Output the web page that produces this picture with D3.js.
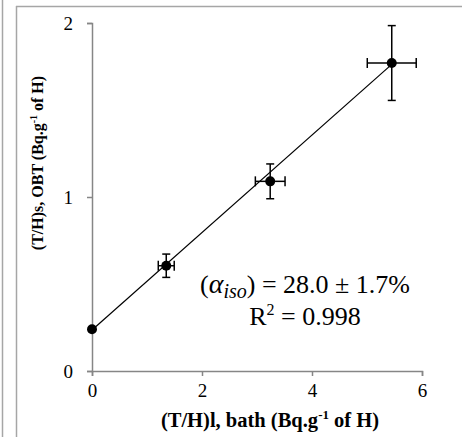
<!DOCTYPE html>
<html>
<head>
<meta charset="utf-8">
<script src="https://cdn.jsdelivr.net/npm/d3@7"></script>
<style>
  body { margin: 0; background: #fff; }
  svg text { font-family: "Liberation Serif", "Times New Roman", serif; }
</style>
</head>
<body>
<svg id="chart" width="462" height="437"></svg>
<script>
// values
const xVals = [0, 1.35, 3.24, 5.45]
const yVals = [0.24, 0.605, 1.09, 1.77]
const xErr = [0, 0.145, 0.27, 0.445]
const yErr = [0, 0.067, 0.1, 0.215]
const xTicks = [0, 2, 4, 6]
const yTicks = [0, 1, 2]
const fitSlope = 0.28
const fitIntercept = 0.236

const svg = d3.select('#chart')

// frame lines around the figure
const frame = '#a6a6a6'
svg.append('line').attr('x1', 2.5).attr('x2', 2.5).attr('y1', 0).attr('y2', 437)
  .attr('stroke', frame).attr('stroke-width', 1.5)
svg.append('line').attr('x1', 16.5).attr('x2', 16.5).attr('y1', 6).attr('y2', 437)
  .attr('stroke', frame).attr('stroke-width', 1.5)
svg.append('line').attr('x1', 16).attr('x2', 462).attr('y1', 6.5).attr('y2', 6.5)
  .attr('stroke', frame).attr('stroke-width', 1.5)

const x = d3.scaleLinear().domain([0, 6]).range([92, 422])
const y = d3.scaleLinear().domain([0, 2]).range([371, 23])

const axisColor = '#868686'

const xAxis = svg.append('g')
  .attr('transform', `translate(0, ${y(0)})`)
  .call(d3.axisBottom(x).tickValues(xTicks).tickSize(5).tickPadding(8).tickFormat(d3.format('d')))
const yAxis = svg.append('g')
  .attr('transform', `translate(${x(0)}, 0)`)
  .call(d3.axisLeft(y).tickValues(yTicks).tickSize(5).tickPadding(14).tickFormat(d3.format('d')))

;[xAxis, yAxis].forEach(ax => {
  ax.attr('font-family', null).attr('font-size', null)
  ax.select('.domain').attr('stroke', axisColor).attr('stroke-width', 1.5)
  ax.selectAll('.tick line').attr('stroke', axisColor).attr('stroke-width', 1.5)
  ax.selectAll('.tick text')
    .attr('fill', '#000')
    .style('font-size', '19px')
})
yAxis.selectAll('.tick text').attr('dy', '0.35em')

// fit line
const xMax = d3.max(xVals)
svg.append('line')
  .attr('x1', x(0)).attr('y1', y(fitIntercept))
  .attr('x2', x(xMax)).attr('y2', y(fitIntercept + fitSlope * xMax))
  .attr('stroke', '#000').attr('stroke-width', 1.2)

const pts = xVals.map((v, i) => ({ x: v, y: yVals[i], ex: xErr[i], ey: yErr[i] }))
const bars = svg.append('g').attr('stroke', '#000').attr('stroke-width', 1.5)
const withErr = pts.filter(d => d.ex > 0 || d.ey > 0)

bars.selectAll('.ev').data(withErr).enter().append('line')
  .attr('x1', d => x(d.x)).attr('x2', d => x(d.x))
  .attr('y1', d => y(d.y - d.ey)).attr('y2', d => y(d.y + d.ey))
bars.selectAll('.evc').data(withErr.flatMap(d => [d.y - d.ey, d.y + d.ey].map(v => ({ x: d.x, v }))))
  .enter().append('line')
  .attr('x1', d => x(d.x) - 4).attr('x2', d => x(d.x) + 4)
  .attr('y1', d => y(d.v)).attr('y2', d => y(d.v))
bars.selectAll('.eh').data(withErr).enter().append('line')
  .attr('x1', d => x(d.x - d.ex)).attr('x2', d => x(d.x + d.ex))
  .attr('y1', d => y(d.y)).attr('y2', d => y(d.y))
bars.selectAll('.ehc').data(withErr.flatMap(d => [d.x - d.ex, d.x + d.ex].map(v => ({ y: d.y, v }))))
  .enter().append('line')
  .attr('x1', d => x(d.v)).attr('x2', d => x(d.v))
  .attr('y1', d => y(d.y) - 5).attr('y2', d => y(d.y) + 5)

svg.selectAll('.pt').data(pts).enter().append('circle')
  .attr('cx', d => x(d.x)).attr('cy', d => y(d.y)).attr('r', 5)
  .attr('fill', '#000')

// axis titles
const xt = svg.append('text')
  .attr('x', 270).attr('y', 427)
  .attr('text-anchor', 'middle')
  .style('font-size', '20.5px').style('font-weight', 'bold')
xt.append('tspan').text('(T/H)l, bath (Bq.g')
xt.append('tspan').text('-1').attr('dy', -8).style('font-size', '13px')
xt.append('tspan').text(' of H)').attr('dy', 8)

const yt = svg.append('text')
  .attr('transform', 'translate(43, 163) rotate(-90)')
  .attr('text-anchor', 'middle')
  .style('font-size', '16px').style('font-weight', 'bold')
yt.append('tspan').text('(T/H)s, OBT (Bq.g')
yt.append('tspan').text('-1').attr('dy', -6).style('font-size', '10px')
yt.append('tspan').text(' of H)').attr('dy', 6)

// annotation
const a1 = svg.append('text')
  .attr('x', 305).attr('y', 293)
  .attr('text-anchor', 'middle')
  .style('font-size', '26px')
a1.append('tspan').text('(')
a1.append('tspan').text('α').style('font-style', 'italic').style('font-size', '28px')
a1.append('tspan').text('iso').style('font-style', 'italic').style('font-size', '20px').attr('dy', 5)
a1.append('tspan').text(') = 28.0 ± 1.7%').attr('dy', -5)

const a2 = svg.append('text')
  .attr('x', 305).attr('y', 325)
  .attr('text-anchor', 'middle')
  .style('font-size', '26px')
a2.append('tspan').text('R')
a2.append('tspan').text('2').attr('dy', -10).style('font-size', '16px')
a2.append('tspan').text(' = 0.998').attr('dy', 10)
</script>
</body>
</html>
